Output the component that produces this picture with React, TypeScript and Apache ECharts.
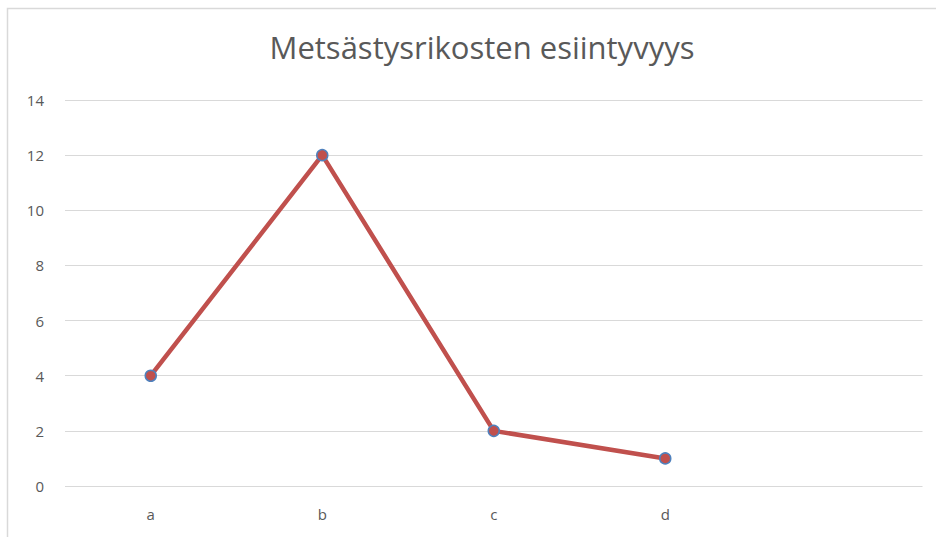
import React, { useEffect, useRef } from "react";
import * as echarts from "echarts";

const title = "Metsästysrikosten esiintyvyys";
const categories = ["a", "b", "c", "d", ""];
const values = [4, 12, 2, 1];
const yMin = 0;
const yMax = 14;
const yStep = 2;

export default function App() {
  const ref = useRef<HTMLDivElement>(null);
  useEffect(() => {
    if (!ref.current) return;
    const chart = echarts.init(ref.current, null, { renderer: "svg" });
    chart.setOption({
      animation: false,
      backgroundColor: "#ffffff",
      title: {
        text: title,
        left: 477,
        top: 26,
        textAlign: "center",
        textStyle: {
          fontFamily: "Open Sans",
          fontSize: 31,
          fontWeight: "normal",
          color: "#595959",
        },
      },
      graphic: [
        {
          type: "rect",
          shape: { x: 7.5, y: 8.5, width: 960, height: 560 },
          style: { fill: "none", stroke: "#d9d9d9", lineWidth: 1.5 },
          silent: true,
        },
      ],
      grid: { left: 65, right: 13.5, top: 100, bottom: 51, containLabel: false },
      xAxis: {
        type: "category",
        data: categories,
        boundaryGap: true,
        axisLine: { show: false },
        axisTick: { show: false },
        axisLabel: {
          fontFamily: "Open Sans",
          fontSize: 15,
          color: "#595959",
          margin: 20,
        },
        splitLine: { show: false },
      },
      yAxis: {
        type: "value",
        min: yMin,
        max: yMax,
        interval: yStep,
        axisLine: { show: false },
        axisTick: { show: false },
        axisLabel: {
          fontFamily: "Open Sans",
          fontSize: 15,
          color: "#595959",
          margin: 21,
        },
        splitLine: { lineStyle: { color: "#d9d9d9", width: 1 } },
      },
      series: [
        {
          type: "line",
          data: values,
          symbol: "circle",
          symbolSize: 11,
          lineStyle: { color: "#C0504D", width: 4.5 },
          itemStyle: { color: "#C0504D", borderColor: "#4F81BD", borderWidth: 1.5 },
        },
      ],
    });
    return () => chart.dispose();
  }, []);
  return (
    <div
      ref={ref}
      style={{ position: "fixed", left: 0, top: 0, width: 936, height: 537 }}
    />
  );
}
